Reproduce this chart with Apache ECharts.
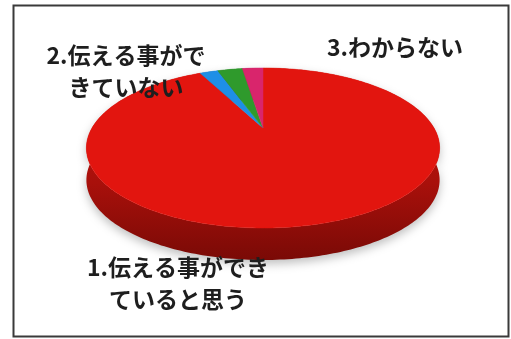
<!DOCTYPE html>
<html><head><meta charset="utf-8">
<script src="https://cdn.jsdelivr.net/npm/echarts@6/dist/echarts.min.js"></script>
<style>html,body{margin:0;padding:0;background:#fff}#c{width:511px;height:339px}</style>
</head><body><div id="c"></div>
<script>
// Data
const categories = ['1.伝える事ができ\nていると思う', '2.伝える事がで\nきていない', '', '3.わからない'];
const values = [92.6, 2.1, 2.9, 2.4];
const colors = ['#E2150F', '#1E8FE6', '#2F9A2C', '#D9256C'];
const sideColors = ['#CC140E', '#156AB0', '#1F6E1D', '#A01A50'];

// label positions (text placement)
const labelPos = [[178, 283], [126, 71], null, [395, 47]];

// pie geometry (pseudo-3D perspective)
const CX = 263, CY = 128, A = 171, B = 75, P = 0.25, T = 32;
function proj(phiDeg, dy) {
  const f = phiDeg * Math.PI / 180;
  const u = Math.sin(f), v = Math.cos(f);
  const den = 1 + P * v;
  return [CX + A * u / den, CY - B * v / den + (dy || 0)];
}
const total = values.reduce((a, b) => a + b, 0);
const starts = [];
let acc = 0;
values.forEach(v => { starts.push(acc / total * 360); acc += v; });

function arcPts(a0, a1, dy) {
  const pts = [];
  const n = Math.max(2, Math.ceil((a1 - a0) / 1));
  for (let i = 0; i <= n; i++) pts.push(proj(a0 + (a1 - a0) * i / n, dy));
  return pts;
}

const chart = echarts.init(document.getElementById('c'), null, {renderer: 'canvas'});
const data = values.map((v, i) => ({value: v, name: categories[i]}));

chart.setOption({
  animation: false,
  backgroundColor: '#fff',
  series: [
    {
      type: 'custom', coordinateSystem: 'none', z: 1, data: data,
      renderItem: function (params, api) {
        const i = params.dataIndex;
        const a0 = starts[i], a1 = a0 + api.value(0) / total * 360;
        const top = arcPts(a0, a1, 0);
        const bot = arcPts(a0, a1, T).reverse();
        return {
          type: 'polygon',
          shape: {points: top.concat(bot)},
          style: {
            fill: new echarts.graphic.LinearGradient(0, 0, 0, 1, [
              {offset: 0, color: sideColors[i]},
              {offset: 0.6, color: '#A8100B'},
              {offset: 1, color: '#7A0A06'}
            ]),
            stroke: null,
            shadowBlur: 10, shadowColor: 'rgba(0,0,0,0.25)', shadowOffsetY: 4
          }
        };
      }
    },
    {
      type: 'custom', coordinateSystem: 'none', z: 2, data: data,
      renderItem: function (params, api) {
        const i = params.dataIndex;
        const a0 = starts[i], a1 = a0 + api.value(0) / total * 360;
        const pts = [[CX, CY]].concat(arcPts(a0, a1, 0));
        return {
          type: 'polygon',
          shape: {points: pts},
          style: {fill: colors[i], stroke: colors[i], lineWidth: 0.5}
        };
      }
    }
  ],
  graphic: [
    {type: 'rect', z: 10, shape: {x: 13.5, y: 5.5, width: 495, height: 331},
     style: {fill: null, stroke: '#3a3a3a', lineWidth: 2}},
  ].concat(categories.map((c, i) => labelPos[i] ? {
    type: 'text', z: 20, x: labelPos[i][0], y: labelPos[i][1],
    style: {
      text: c, fill: '#1e1e1e', align: 'center', verticalAlign: 'middle',
      font: 'bold 23px "Noto Sans CJK JP", sans-serif', lineHeight: 32
    }
  } : null).filter(Boolean))
});
</script></body></html>
